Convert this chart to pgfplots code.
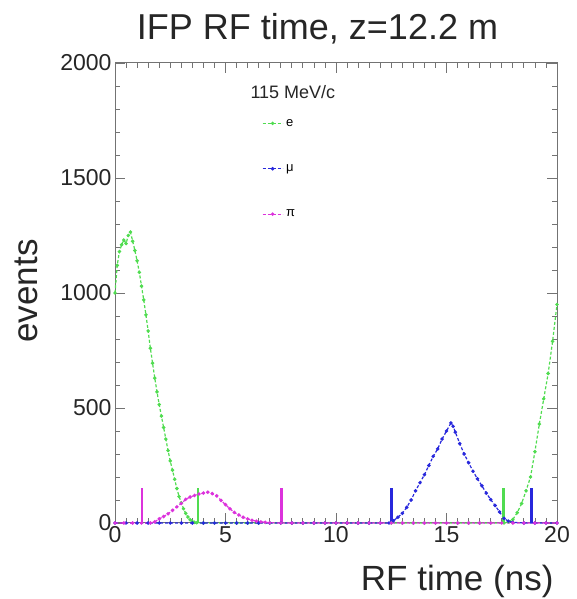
\documentclass[border=0pt]{standalone}
\usepackage{fontspec}
\setmainfont{Liberation Sans}
\usepackage{pgfplots}
\usepackage{pgfplotstable}
\pgfplotsset{compat=1.18}
\definecolor{rgreen}{RGB}{80,220,80}
\definecolor{rblue}{RGB}{40,40,220}
\definecolor{rmag}{RGB}{220,50,220}

\pgfplotstableread{
x v
0.0 1000
0.1 1120
0.2 1180
0.3 1210
0.4 1230
0.5 1215
0.6 1250
0.7 1265
0.8 1225
0.9 1185
1.0 1140
1.1 1090
1.2 1030
1.3 970
1.4 905
1.5 835
1.6 760
1.7 695
1.8 630
1.9 570
2.0 515
2.1 465
2.2 415
2.3 365
2.4 315
2.5 270
2.6 230
2.7 190
2.8 150
2.9 115
3.0 88
3.1 62
3.2 42
3.3 26
3.4 14
3.5 7
3.6 3
3.7 1
4.0 0
4.5 0
5.0 0
5.5 0
6.0 0
6.5 0
7.0 0
7.5 0
8.0 0
8.5 0
9.0 0
9.5 0
10.0 0
10.5 0
11.0 0
11.5 0
12.0 0
12.5 0
13.0 0
13.5 0
14.0 0
14.5 0
15.0 0
15.5 0
16.0 0
16.5 0
17.0 0
17.6 0
17.8 5
18.0 15
18.2 45
18.4 85
18.6 140
18.8 200
19.0 310
19.2 430
19.4 540
19.6 650
19.8 790
20.0 950
}\tabE

\pgfplotstableread{
x v
0.0 0
0.5 0
1.0 0
1.5 0
2.0 0
2.5 0
3.0 0
3.5 0
4.0 0
4.5 0
5.0 0
5.5 0
6.0 0
6.5 0
7.0 0
7.5 0
8.0 0
8.5 0
9.0 0
9.5 0
10.0 0
10.5 0
11.0 0
11.5 0
12.0 0
12.4 0
12.6 10
12.8 25
13.0 42
13.2 68
13.4 100
13.6 140
13.8 175
14.0 210
14.2 250
14.4 290
14.6 322
14.8 365
15.0 400
15.2 435
15.3 420
15.4 395
15.6 345
15.8 300
16.0 262
16.2 225
16.4 192
16.6 162
16.8 130
17.0 102
17.2 76
17.4 48
17.6 20
17.8 8
18.0 3
18.5 0
19.0 0
19.5 0
20.0 0
}\tabMu

\pgfplotstableread{
x v
0.0 0
0.4 0
0.8 0
1.2 0
1.6 0
1.8 5
2.0 18
2.2 28
2.4 40
2.6 55
2.8 70
3.0 85
3.2 103
3.4 113
3.6 120
3.8 126
4.0 130
4.2 134
4.4 128
4.6 118
4.8 98
5.0 80
5.2 62
5.4 46
5.6 35
5.8 25
6.0 18
6.2 12
6.4 8
6.6 5
6.8 3
7.0 1
7.5 0
8.0 0
8.5 0
9.0 0
9.5 0
10.0 0
10.5 0
11.0 0
11.5 0
12.0 0
12.5 0
13.0 0
13.5 0
14.0 0
14.5 0
15.0 0
15.5 0
16.0 0
16.5 0
17.0 0
17.5 0
18.0 0
18.5 0
19.0 0
19.5 0
20.0 0
}\tabPi

\begin{document}
\begin{tikzpicture}
\path[use as bounding box] (0,0) rectangle (576pt,599pt);
\begin{axis}[
  at={(115pt,76pt)}, anchor=south west,
  scale only axis, width=442pt, height=460pt,
  xmin=0, xmax=20, ymin=0, ymax=2000,
  xtick={0,5,10,15,20}, ytick={0,500,1000,1500,2000},
  minor x tick num=9, minor y tick num=4,
  tick align=inside,
  major tick length=10pt, minor tick length=5pt,
  axis line style={black!55, line width=1pt},
  every tick/.style={black!55, line width=0.8pt},
  /pgf/number format/assume math mode=true,
  /pgf/number format/1000 sep={},
  tick label style={font=\fontsize{23}{23}\selectfont, text=black!85},
  clip=false,
  legend style={draw=none, fill=none, inner sep=0pt, outer sep=0pt,
    at={(0.3326,0.878)}, anchor=north west,
    font=\fontsize{13}{13}\selectfont, row sep=37pt, column sep=3pt,
    nodes={inner sep=0pt}},
  legend cell align=left,
  legend image code/.code={\draw[mark repeat=2,mark phase=2,#1] plot coordinates {(0pt,0pt) (10pt,0pt) (20pt,0pt)};},
]
\addplot[rgreen, line width=1.2pt, dash pattern=on 3pt off 2pt, mark=*, mark size=1.1pt, mark options={solid}] table[x=x,y=v] {\tabE};
\addlegendentry{e}
\addplot[rblue, line width=1.2pt, dash pattern=on 3pt off 2pt, mark=*, mark size=1.1pt, mark options={solid}] table[x=x,y=v] {\tabMu};
\addlegendentry{μ}
\addplot[rmag, line width=1.2pt, dash pattern=on 3pt off 2pt, mark=*, mark size=1.1pt, mark options={solid}] table[x=x,y=v] {\tabPi};
\addlegendentry{π}
\addplot[rgreen, ycomb, line width=2.4pt, forget plot] coordinates {(3.76,150) (17.57,150)};
\addplot[rblue, ycomb, line width=2.4pt, forget plot] coordinates {(12.52,150) (18.85,150)};
\addplot[rmag, ycomb, line width=2.4pt, forget plot] coordinates {(1.21,150) (7.54,150)};
\end{axis}
\node[anchor=base, font=\fontsize{36}{36}\selectfont, text=black!85] at (317.5pt,559pt) {IFP RF time, z=12.2 m};
\node[anchor=base, rotate=90, font=\fontsize{35}{35}\selectfont, text=black!85] at (37pt,308pt) {events};
\node[anchor=base east, font=\fontsize{35}{35}\selectfont, text=black!85] at (557pt,9pt) {RF time (ns)};
\node[anchor=base west, font=\fontsize{18}{18}\selectfont, text=black!85] at (247pt,500pt) {115 MeV/c};
\end{tikzpicture}
\end{document}
